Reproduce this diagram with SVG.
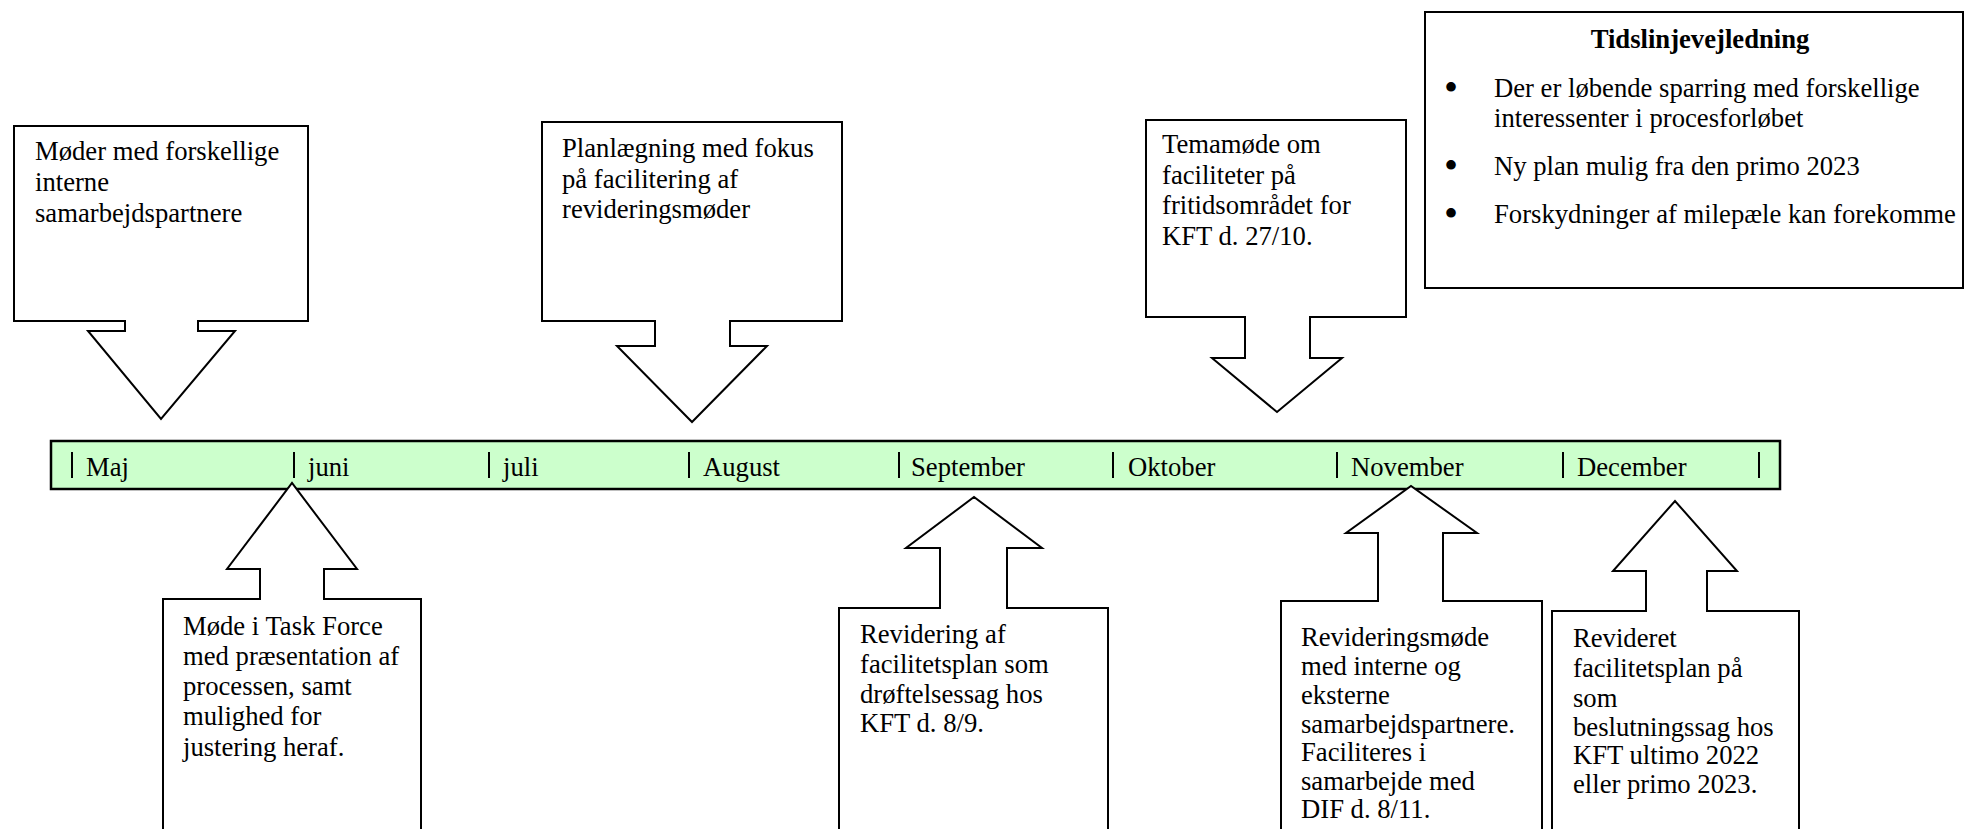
<svg xmlns="http://www.w3.org/2000/svg" width="1964" height="829" viewBox="0 0 1964 829">
<style>
.co{fill:#fff;stroke:#000;stroke-width:2;stroke-linejoin:miter}
.t{font-family:"Liberation Serif","Times New Roman",serif;font-size:26.67px;fill:#000}
.b{font-weight:bold}
.bul{font-family:"Liberation Serif","Times New Roman",serif;font-size:40px;fill:#000}
.bar{fill:#ccffcc;stroke:#000;stroke-width:2.5}
.tick{stroke:#000;stroke-width:2}
</style>
<rect width="1964" height="829" fill="#fff"/>

<g id="legend">
<rect x="1425" y="12" width="538" height="276" fill="#fff" stroke="#000" stroke-width="2"/>
<text class="t b" x="1700" y="48" text-anchor="middle">Tidslinjevejledning</text>
<text class="bul" x="1444" y="101">•</text>
<text class="t" x="1494" y="97">Der er løbende sparring med forskellige</text>
<text class="t" x="1494" y="127">interessenter i procesforløbet</text>
<text class="bul" x="1444" y="179">•</text>
<text class="t" x="1494" y="175">Ny plan mulig fra den primo 2023</text>
<text class="bul" x="1444" y="227">•</text>
<text class="t" x="1494" y="223">Forskydninger af milepæle kan forekomme</text>
</g>

<g id="timeline">
<rect class="bar" x="51" y="441" width="1729" height="48"/>
<g class="tick">
<line x1="72" y1="452" x2="72" y2="478"/>
<line x1="294" y1="452" x2="294" y2="478"/>
<line x1="489" y1="452" x2="489" y2="478"/>
<line x1="689" y1="452" x2="689" y2="478"/>
<line x1="899" y1="452" x2="899" y2="478"/>
<line x1="1113" y1="452" x2="1113" y2="478"/>
<line x1="1337" y1="452" x2="1337" y2="478"/>
<line x1="1563" y1="452" x2="1563" y2="478"/>
<line x1="1759" y1="452" x2="1759" y2="478"/>
</g>
<text class="t" x="86" y="476">Maj</text>
<text class="t" x="308" y="476">juni</text>
<text class="t" x="503" y="476">juli</text>
<text class="t" x="703" y="476">August</text>
<text class="t" x="911" y="476">September</text>
<text class="t" x="1128" y="476">Oktober</text>
<text class="t" x="1351" y="476">November</text>
<text class="t" x="1577" y="476">December</text>
</g>

<g id="connectors"></g>

<g id="n-moeder">
<path class="co" d="M14,126 H308 V321 H198 V331 H235 L161,419 L88,331 H125 V321 H14 Z"/>
<text class="t" x="35" y="160">Møder med forskellige</text>
<text class="t" x="35" y="191">interne</text>
<text class="t" x="35" y="222">samarbejdspartnere</text>
</g>

<g id="n-planlaegning">
<path class="co" d="M542,122 H842 V321 H730 V346 H767 L692,422 L617,346 H655 V321 H542 Z"/>
<text class="t" x="562" y="157">Planlægning med fokus</text>
<text class="t" x="562" y="188">på facilitering af</text>
<text class="t" x="562" y="218">revideringsmøder</text>
</g>

<g id="n-temamoede">
<path class="co" d="M1146,120 H1406 V317 H1310 V358 H1342 L1277,412 L1212,358 H1245 V317 H1146 Z"/>
<text class="t" x="1162" y="153">Temamøde om</text>
<text class="t" x="1162" y="184">faciliteter på</text>
<text class="t" x="1162" y="214">fritidsområdet for</text>
<text class="t" x="1162" y="245">KFT d. 27/10.</text>
</g>

<g id="n-taskforce">
<path class="co" d="M163,845 V599 H260 V569 H227 L292,483 L357,569 H324 V599 H421 V845"/>
<text class="t" x="183" y="635">Møde i Task Force</text>
<text class="t" x="183" y="665">med præsentation af</text>
<text class="t" x="183" y="695">processen, samt</text>
<text class="t" x="183" y="725">mulighed for</text>
<text class="t" x="183" y="756">justering heraf.</text>
</g>

<g id="n-revidering">
<path class="co" d="M839,845 V608 H940 V548 H906 L974,497 L1042,548 H1007 V608 H1108 V845"/>
<text class="t" x="860" y="643">Revidering af</text>
<text class="t" x="860" y="673">facilitetsplan som</text>
<text class="t" x="860" y="703">drøftelsessag hos</text>
<text class="t" x="860" y="732">KFT d. 8/9.</text>
</g>

<g id="n-revideringsmoede">
<path class="co" d="M1281,845 V601 H1378 V533 H1346 L1411,486 L1477,533 H1443 V601 H1542 V845"/>
<text class="t" x="1301" y="646">Revideringsmøde</text>
<text class="t" x="1301" y="675">med interne og</text>
<text class="t" x="1301" y="704">eksterne</text>
<text class="t" x="1301" y="733">samarbejdspartnere.</text>
<text class="t" x="1301" y="761">Faciliteres i</text>
<text class="t" x="1301" y="790">samarbejde med</text>
<text class="t" x="1301" y="818">DIF d. 8/11.</text>
</g>

<g id="n-revideret">
<path class="co" d="M1552,845 V611 H1646 V571 H1613 L1675,501 L1737,571 H1707 V611 H1799 V845"/>
<text class="t" x="1573" y="647">Revideret</text>
<text class="t" x="1573" y="677">facilitetsplan på</text>
<text class="t" x="1573" y="707">som</text>
<text class="t" x="1573" y="736">beslutningssag hos</text>
<text class="t" x="1573" y="764">KFT ultimo 2022</text>
<text class="t" x="1573" y="793">eller primo 2023.</text>
</g>
</svg>
